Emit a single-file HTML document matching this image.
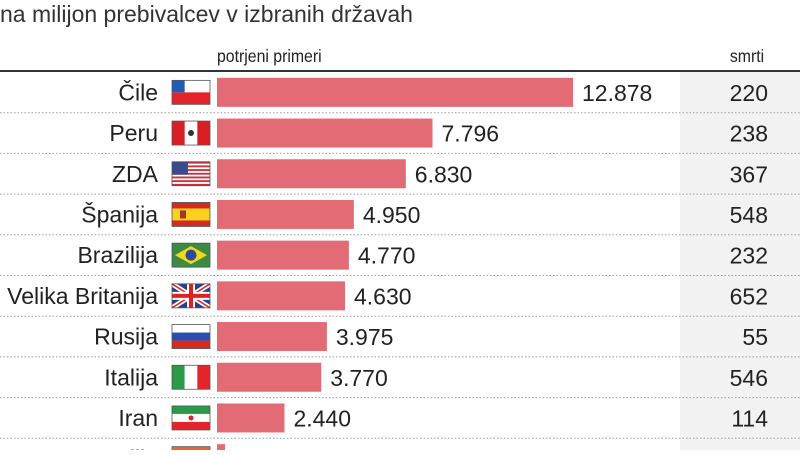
<!DOCTYPE html>
<html><head><meta charset="utf-8"><style>
body{margin:0;width:800px;height:450px;overflow:hidden;background:#fff;font-family:"Liberation Sans",sans-serif;}
svg text{font-family:"Liberation Sans",sans-serif;}
</style></head><body>
<svg id="chart" width="800" height="450" viewBox="0 0 800 450">
<rect x="680" y="72" width="120" height="380" fill="#f2f2f2"/>
<text x="0" y="22" font-size="23" fill="#333">na milijon prebivalcev v izbranih državah</text>
<text x="217" y="62" font-size="18" fill="#222" transform="translate(217,0) scale(0.88,1) translate(-217,0)">potrjeni primeri</text>
<text x="747" y="62" font-size="18" fill="#222" text-anchor="middle" transform="translate(747,0) scale(0.88,1) translate(-747,0)">smrti</text>
<line x1="0" y1="71" x2="800" y2="71" stroke="#333" stroke-width="2"/>
<g id="rows"></g>
</svg>
<script>
const countries=["Čile","Peru","ZDA","Španija","Brazilija","Velika Britanija","Rusija","Italija","Iran","Indija"];
const cases=[12878,7796,6830,4950,4770,4630,3975,3770,2440,291];
const caseLabels=["12.878","7.796","6.830","4.950","4.770","4.630","3.975","3.770","2.440","291"];
const deaths=["220","238","367","548","232","652","55","546","114","8"];
const ns="http://www.w3.org/2000/svg";
const g=document.getElementById('rows');
const x0=217, scale=356/12878, rowH=40.7, top0=72;
function xs(v){return v*scale;}
function mk(t,a){const e=document.createElementNS(ns,t);for(const k in a)e.setAttribute(k,a[k]);return e;}
function flag(i,x,y,w,h){
  const f=mk('g',{});
  
  
  const add=(t,a)=>f.appendChild(mk(t,a));
  const c=countries[i];
  if(c==="Čile"){add('rect',{x,y,width:w,height:h/2,fill:'#fff'});add('rect',{x,y:y+h/2,width:w,height:h/2,fill:'#e3252b'});add('rect',{x,y,width:w/3,height:h/2,fill:'#1f5cb8'});}
  else if(c==="Peru"){add('rect',{x,y,width:w,height:h,fill:'#fff'});add('rect',{x,y,width:w/3,height:h,fill:'#d91f26'});add('rect',{x:x+2*w/3,y,width:w/3,height:h,fill:'#d91f26'});add('circle',{cx:x+w/2,cy:y+h/2,r:3,fill:'#333'});}
  else if(c==="ZDA"){add('rect',{x,y,width:w,height:h,fill:'#fff'});for(let k=0;k<7;k++)add('rect',{x,y:y+k*h/6.5,width:w,height:h/13,fill:'#c8313c'});add('rect',{x,y,width:w*0.42,height:h*0.54,fill:'#3b4a8c'});}
  else if(c==="Španija"){add('rect',{x,y,width:w,height:h,fill:'#d42a20'});add('rect',{x,y:y+h/4,width:w,height:h/2,fill:'#f8d21c'});add('rect',{x:x+8,y:y+h/2-4,width:6,height:8,fill:'#a5361f'});}
  else if(c==="Brazilija"){add('rect',{x,y,width:w,height:h,fill:'#3d8a45'});add('polygon',{points:`${x+3},${y+h/2} ${x+w/2},${y+3} ${x+w-3},${y+h/2} ${x+w/2},${y+h-3}`,fill:'#f4d818'});add('circle',{cx:x+w/2,cy:y+h/2,r:5.5,fill:'#2c4a9a'});}
  else if(c==="Velika Britanija"){add('rect',{x,y,width:w,height:h,fill:'#2a3e8c'});add('line',{x1:x,y1:y,x2:x+w,y2:y+h,stroke:'#fff',"stroke-width":5});add('line',{x1:x+w,y1:y,x2:x,y2:y+h,stroke:'#fff',"stroke-width":5});add('line',{x1:x,y1:y,x2:x+w,y2:y+h,stroke:'#d22',"stroke-width":1.5});add('line',{x1:x+w,y1:y,x2:x,y2:y+h,stroke:'#d22',"stroke-width":1.5});add('rect',{x:x+w/2-4,y,width:8,height:h,fill:'#fff'});add('rect',{x,y:y+h/2-4,width:w,height:8,fill:'#fff'});add('rect',{x:x+w/2-2,y,width:4,height:h,fill:'#d22'});add('rect',{x,y:y+h/2-2,width:w,height:4,fill:'#d22'});}
  else if(c==="Rusija"){add('rect',{x,y,width:w,height:h/3,fill:'#fff'});add('rect',{x,y:y+h/3,width:w,height:h/3,fill:'#2a4fb0'});add('rect',{x,y:y+2*h/3,width:w,height:h/3,fill:'#d52b1e'});}
  else if(c==="Italija"){add('rect',{x,y,width:w/3,height:h,fill:'#2a9a48'});add('rect',{x:x+w/3,y,width:w/3,height:h,fill:'#fff'});add('rect',{x:x+2*w/3,y,width:w/3,height:h,fill:'#e3252b'});}
  else if(c==="Iran"){add('rect',{x,y,width:w,height:h/3,fill:'#2a9a48'});add('rect',{x,y:y+h/3,width:w,height:h/3,fill:'#fff'});add('rect',{x,y:y+2*h/3,width:w,height:h/3,fill:'#e3252b'});add('circle',{cx:x+w/2,cy:y+h/2,r:2.5,fill:'#d22'});}
  else {add('rect',{x,y,width:w,height:h/3,fill:'#e8692a'});add('rect',{x,y:y+h/3,width:w,height:h/3,fill:'#fff'});add('rect',{x,y:y+2*h/3,width:w,height:h/3,fill:'#2a9a48'});}
  add('rect',{x,y,width:w,height:h,fill:'none',stroke:'#555',"stroke-width":0.8});
  return f;
}
countries.forEach((c,i)=>{
  const yTop=top0+i*rowH, cy=yTop+rowH/2;
  const lab=mk('text',{x:158,y:cy+8,"font-size":23,fill:'#222',"text-anchor":'end'});
  lab.textContent=c;
  
  
  g.appendChild(lab);
  g.appendChild(flag(i,172,cy-12,38,24));
  const w=xs(cases[i]);
  const bar=mk('rect',{x:x0,y:cy-14.5,width:w,height:29,fill:'#e36b76'});
  
  
  g.appendChild(bar);
  const v=mk('text',{x:x0+w+9,y:cy+8.5,"font-size":23,fill:'#222'});
  v.textContent=caseLabels[i];
  
  
  g.appendChild(v);
  const d=mk('text',{x:768,y:cy+8.5,"font-size":23,fill:'#222',"text-anchor":'end'});
  d.textContent=deaths[i];
  
  
  g.appendChild(d);
  if(i<countries.length-1){
    const l=mk('line',{x1:0,y1:yTop+rowH,x2:800,y2:yTop+rowH,stroke:'#999',"stroke-width":1,"stroke-dasharray":'1.5,2'});
    
    
    g.appendChild(l);
  }
});
</script>
</body></html>
